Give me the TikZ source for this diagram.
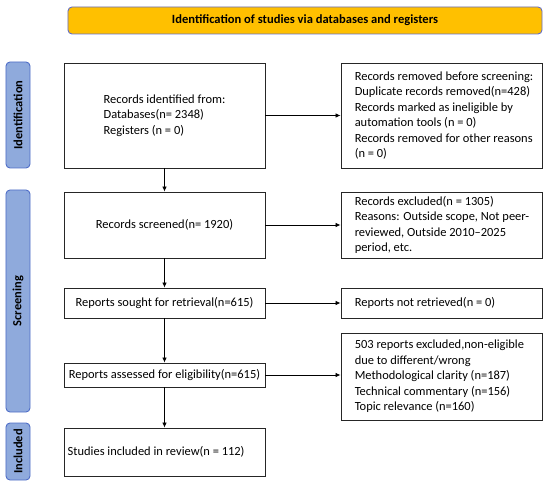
\documentclass[tikz,border=0pt]{standalone}
\usepackage{fontspec}
\setmainfont{Carlito}
\usetikzlibrary{arrows.meta}
\definecolor{bannerfill}{RGB}{255,192,0}
\definecolor{bannerline}{RGB}{100,110,200}
\definecolor{sidefill}{RGB}{143,170,220}
\definecolor{sideline}{RGB}{80,110,200}
\begin{document}
\begin{tikzpicture}[x=1bp, y=-1bp,
	font=\fontsize{12.5}{15.5}\selectfont,
	box/.style={draw=black!85, line width=0.9bp, minimum width=201bp, inner sep=0pt},
	rtext/.style={anchor=west, align=left, inner sep=0pt},
	side/.style={draw=sideline, fill=sidefill, line width=0.9bp, rounded corners=4bp, rotate=90, minimum height=24bp, inner sep=0pt, font=\fontsize{12.5}{14}\selectfont\bfseries},
	link/.style={line width=0.8bp, -{Latex[length=5bp, width=4.5bp]}}]
	\useasboundingbox (0,0) rectangle (550,484);
	\node[draw=bannerline, fill=bannerfill, line width=0.9bp, rounded corners=4bp, minimum width=474bp, minimum height=27bp, font=\fontsize{12.6}{14}\selectfont\bfseries] (banner) at (305,20.5) {Identification of studies via databases and registers};
	\node[side, minimum width=106bp] (sideid) at (18,115) {Identification};
	\node[side, minimum width=222bp] (sidescr) at (18,301) {Screening};
	\node[side, minimum width=57bp] (sideinc) at (18,451.5) {Included};
	\node[box, minimum height=105bp, align=left] (ident) at (164.5,115.5) {Records identified from:\\Databases(n= 2348)\\Registers (n = 0)};
	\node[box, minimum height=66bp] (screened) at (164.5,225) {Records screened(n= 1920)};
	\node[box, minimum height=30bp] (sought) at (164.5,303) {Reports sought for retrieval(n=615)};
	\node[box, minimum height=24bp] (assess) at (164.5,375) {Reports assessed for eligibility(n=615)};
	\node[box, minimum height=48bp] (incl) at (164.5,452) {};
	\node[rtext] (incltxt) at ([xshift=4bp]incl.west) {Studies included in review(n = 112)};
	\node[box, minimum height=105bp] (removed) at (441.5,115.5) {};
	\node[rtext] (removedtxt) at ([xshift=14bp]removed.west) {Records removed before screening:\\Duplicate records removed(n=428)\\Records marked as ineligible by\\automation tools (n = 0)\\Records removed for other reasons\\(n = 0)};
	\node[box, minimum height=66bp] (excl) at (441.5,225) {};
	\node[rtext] (excltxt) at ([xshift=14bp]excl.west) {Records excluded(n = 1305)\\Reasons: Outside scope, Not peer-\\reviewed, Outside 2010--2025\\period, etc.};
	\node[box, minimum height=30bp] (notret) at (441.5,303) {};
	\node[rtext] (notrettxt) at ([xshift=14bp]notret.west) {Reports not retrieved(n = 0)};
	\node[box, minimum height=87bp] (inelig) at (441.5,376.5) {};
	\node[rtext] (ineligtxt) at ([xshift=14bp]inelig.west) {503 reports excluded,non-eligible\\due to different/wrong\\Methodological clarity (n=187)\\Technical commentary (n=156)\\Topic relevance (n=160)};
	\draw[link] (ident) -- (screened);
	\draw[link] (screened) -- (sought);
	\draw[link] (sought) -- (assess);
	\draw[link] (assess) -- (incl);
	\draw[link] (ident) -- (removed);
	\draw[link] (screened) -- (excl);
	\draw[link] (sought) -- (notret);
	\draw[link] (assess.east) -- (assess.east -| inelig.west);
\end{tikzpicture}
\end{document}
